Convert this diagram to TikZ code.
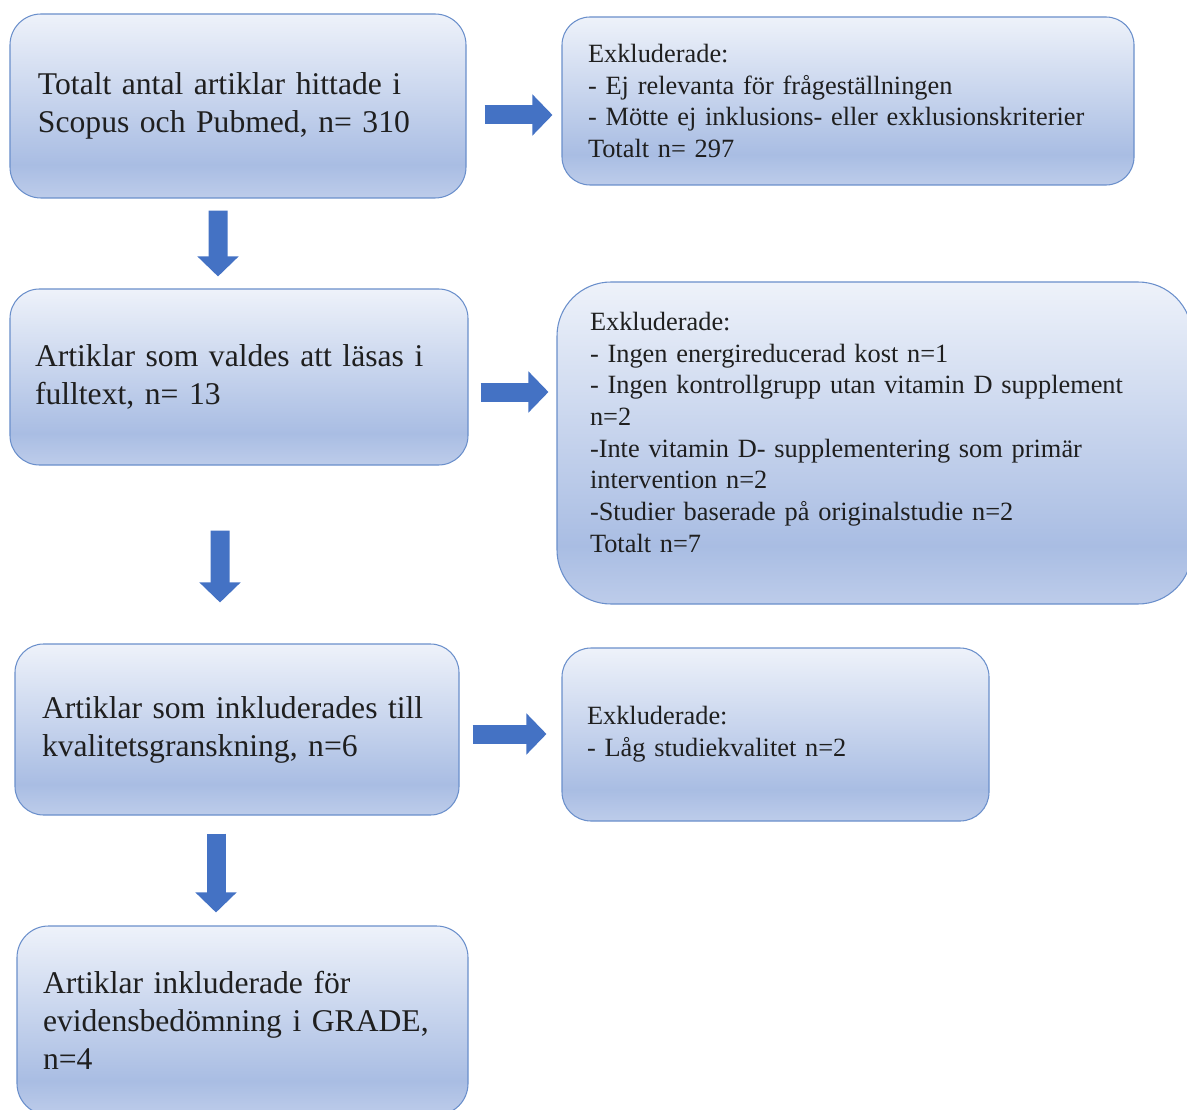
\documentclass[tikz,border=0pt]{standalone}
\usepackage{fontspec}
\setmainfont{Liberation Serif}
\usetikzlibrary{arrows.meta,calc}
\definecolor{boxtop}{HTML}{EEF2FA}
\definecolor{boxmid}{HTML}{A9BDE3}
\definecolor{boxbot}{HTML}{BDCCEA}
\definecolor{boxline}{HTML}{6A8FCB}
\definecolor{arrowblue}{HTML}{4472C4}
\pgfdeclareverticalshading{boxshade}{100bp}{color(0bp)=(boxbot); color(25bp)=(boxbot);
	color(34bp)=(boxmid); color(75bp)=(boxtop); color(100bp)=(boxtop)}
\tikzset{
    every node/.style={rectangle, draw=boxline, line width=0.6pt, shade, shading=boxshade,
    	align=left, inner ysep=0pt, text=black!88}
}
\tikzset{big/.style={font=\fontsize{18}{21.6}\selectfont}}
\tikzset{small/.style={font=\fontsize{15}{18}\selectfont}}
\tikzset{
    blockarrow/.style={draw=arrowblue, line width=0.38cm,
    	-{Triangle[width=0.8cm,length=0.4cm]}}
}

\begin{document}
\begin{tikzpicture}
	\useasboundingbox (0,0) rectangle (23.74,-22.18);
	\node [big, minimum height=3.68cm, text width=8cm, inner xsep=0.56cm, rounded corners=0.62cm]
		(a) at (4.76,-2.12) {Totalt antal artiklar hittade i\\Scopus och Pubmed, n= 310};
	\node [small, minimum height=3.36cm, text width=10.4cm, inner xsep=0.52cm, rounded corners=0.56cm]
		(b) at (16.96,-2.02) {Exkluderade:\\- Ej relevanta för frågeställningen\\
		- Mötte ej inklusions- eller exklusionskriterier\\Totalt n= 297};
	\node [big, minimum height=3.52cm, text width=8.16cm, inner xsep=0.5cm, rounded corners=0.59cm]
		(c) at (4.78,-7.54) {Artiklar som valdes att läsas i\\fulltext, n= 13};
	\node [small, minimum height=6.44cm, text width=11.38cm, inner xsep=0.66cm, rounded corners=1.08cm]
		(d) at (17.49,-8.86) {Exkluderade:\\- Ingen energireducerad kost n=1\\
		- Ingen kontrollgrupp utan vitamin D supplement\\n=2\\
		-Inte vitamin D- supplementering som primär\\intervention n=2\\
		-Studier baserade på originalstudie n=2\\Totalt n=7\\[-0.2cm]\mbox{}};
	\node [big, minimum height=3.42cm, text width=7.8cm, inner xsep=0.54cm, rounded corners=0.57cm]
		(e) at (4.74,-14.59) {Artiklar som inkluderades till\\kvalitetsgranskning, n=6};
	\node [small, minimum height=3.46cm, text width=7.54cm, inner xsep=0.5cm, rounded corners=0.58cm]
		(f) at (15.51,-14.69) {Exkluderade:\\- Låg studiekvalitet n=2};
	\node [big, minimum height=3.78cm, text width=7.98cm, inner xsep=0.52cm, rounded corners=0.63cm]
		(g) at (4.85,-20.41) {Artiklar inkluderade för\\evidensbedömning i GRADE,\\n=4};
	\draw [blockarrow] ($(a.east)+(0.36,-0.18)$) -- ($(b.west |- a.east)+(-0.18,-0.18)$);
	\draw [blockarrow] ($(a.south)+(-0.4,-0.24)$) -- ($(c.north)+(-0.42,0.24)$);
	\draw [blockarrow] ($(c.east)+(0.24,-0.3)$) -- ($(d.west |- c.east)+(-0.16,-0.3)$);
	\draw [blockarrow] ($(c.south)+(-0.38,-1.3)$) -- ($(e.north)+(-0.34,0.82)$);
	\draw [blockarrow] ($(e.east)+(0.26,-0.09)$) -- ($(f.west |- e.east)+(-0.3,-0.09)$);
	\draw [blockarrow] ($(e.south)+(-0.42,-0.36)$) -- ($(g.north)+(-0.53,0.26)$);
\end{tikzpicture}
\end{document}
